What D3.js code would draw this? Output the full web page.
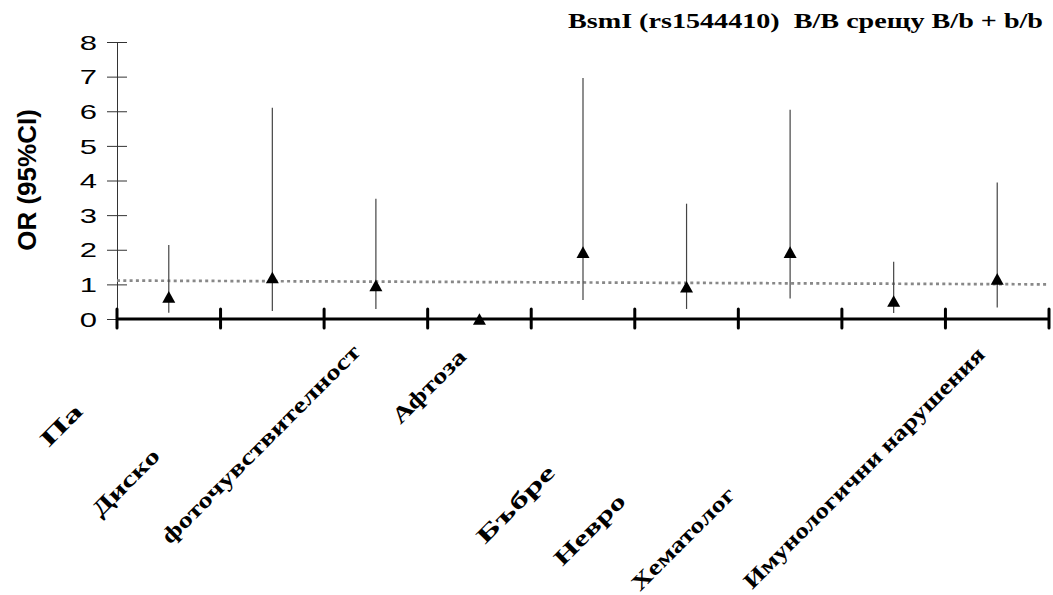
<!DOCTYPE html>
<html>
<head>
<meta charset="utf-8">
<script src="https://cdn.jsdelivr.net/npm/d3@7"></script>
<style>
  body { margin: 0; background: #fff; }
  svg { display: block; }
</style>
</head>
<body>
<svg id="chart"></svg>
<script>
// data
var categories = ["c1", "c2", "c3", "c4", "c5", "c6", "c7", "c8", "c9"];
var orValues = [0.64, 1.2, 0.97, 0.0, 1.93, 0.93, 1.93, 0.52, 1.16];
var ciLower = [0.18, 0.23, 0.29, null, 0.55, 0.29, 0.59, 0.17, 0.33];
var ciUpper = [2.14, 6.1, 3.47, null, 6.96, 3.33, 6.04, 1.65, 3.94];
var trendValues = [1.11, 1.0]; // linear trend, left and right end
var yTicks = [0, 1, 2, 3, 4, 5, 6, 7, 8];
var labelTexts = ["Па", "Диско", "фоточувствителност", "Афтоза", "Бъбре", "Невро", "Хематолог", "Имунологични нарушения"];
var labelCats = [0, 1, 2, 3, 4, 5, 6, 8];
var titleText = "BsmI (rs1544410)  B/B срещу B/b + b/b";

// label layout (offset from category centre, baseline y, stretched length)
var labelLayout = [
  { dx: -120, y: 448, len: 50 },
  { dx: -172, y: 518, len: 86 },
  { dx: -206, y: 545, len: 271 },
  { dx: -79, y: 425, len: 95 },
  { dx: -98, y: 545, len: 101 },
  { dx: -124, y: 567, len: 91 },
  { dx: -150, y: 592, len: 136 },
  { dx: -245, y: 590, len: 331 }
];

var W = 1053, H = 595;
var plot = { left: 117, right: 1049, top: 42, bottom: 319 };

var svg = d3.select("#chart").attr("width", W).attr("height", H);

var x = d3.scaleBand().domain(categories).range([plot.left, plot.right]).padding(0);
var y = d3.scaleLinear().domain([0, 8]).range([plot.bottom, plot.top]);
var cx = function (i) { return x(categories[i]) + x.bandwidth() / 2; };

// y axis
var yAxis = svg.append("g")
  .attr("transform", `translate(${plot.left},0)`)
  .call(d3.axisLeft(y).tickValues(yTicks).tickSize(10).tickSizeOuter(0));
yAxis.select(".domain").attr("stroke", "#333").attr("stroke-width", 1);
yAxis.selectAll(".tick line").attr("x1", 10).attr("x2", -10).attr("stroke", "#333");
yAxis.selectAll(".tick text")
  .attr("x", -12.9)
  .attr("dy", "0.36em")
  .attr("transform", "scale(1.55,1)")
  .attr("font-family", "Liberation Sans, Arial, sans-serif")
  .attr("font-size", 20)
  .attr("fill", "#000");

// y title
svg.append("text")
  .attr("transform", "translate(36,180) rotate(-90)")
  .attr("text-anchor", "middle")
  .attr("font-family", "Liberation Sans, Arial, sans-serif")
  .attr("font-weight", "bold")
  .attr("font-size", 26)
  .text("OR (95%CI)");

// trend line (dotted)
svg.append("line")
  .attr("x1", plot.left).attr("x2", plot.right)
  .attr("y1", y(trendValues[0])).attr("y2", y(trendValues[1]))
  .attr("stroke", "#888")
  .attr("stroke-width", 2.7)
  .attr("stroke-dasharray", "3,3.3");

// confidence intervals
svg.append("g").selectAll("line")
  .data(orValues.map((d, i) => i).filter(i => ciLower[i] !== null))
  .join("line")
  .attr("x1", i => cx(i)).attr("x2", i => cx(i))
  .attr("y1", i => y(ciLower[i])).attr("y2", i => y(ciUpper[i]))
  .attr("stroke", "#444")
  .attr("stroke-width", 1.2);

// x axis (thick line with crossing ticks)
svg.append("line")
  .attr("x1", plot.left).attr("x2", plot.right)
  .attr("y1", y(0)).attr("y2", y(0))
  .attr("stroke", "#000").attr("stroke-width", 3);
var edges = categories.map(c => x(c)).concat([plot.right]);
svg.append("g").selectAll("line")
  .data(edges)
  .join("line")
  .attr("x1", d => d).attr("x2", d => d)
  .attr("y1", y(0) - 10).attr("y2", y(0) + 9)
  .attr("stroke", "#000").attr("stroke-width", 3)
  .attr("stroke-linecap", "round");

// triangle markers
svg.append("g").selectAll("path")
  .data(orValues)
  .join("path")
  .attr("transform", (d, i) => `translate(${cx(i)},${y(d)})`)
  .attr("d", "M0,-5.8L6.5,5.8L-6.5,5.8Z")
  .attr("fill", "#000");

// category labels
svg.append("g").selectAll("text")
  .data(labelTexts)
  .join("text")
  .attr("transform", (d, i) => `translate(${cx(labelCats[i]) + labelLayout[i].dx},${labelLayout[i].y}) rotate(-45)`)
  .attr("font-family", "Liberation Serif, Times New Roman, serif")
  .attr("font-weight", "bold")
  .attr("font-size", 22)
  .attr("textLength", (d, i) => labelLayout[i].len)
  .attr("lengthAdjust", "spacingAndGlyphs")
  .text(d => d);

// title
svg.append("text")
  .attr("x", 568).attr("y", 28)
  .style("white-space", "pre")
  .attr("font-family", "Liberation Serif, Times New Roman, serif")
  .attr("font-weight", "bold")
  .attr("font-size", 21)
  .attr("textLength", 475)
  .attr("lengthAdjust", "spacingAndGlyphs")
  .text(titleText);
</script>
</body>
</html>
